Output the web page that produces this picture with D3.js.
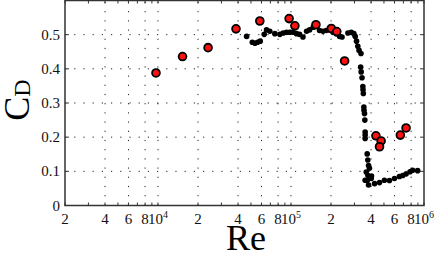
<!DOCTYPE html>
<html><head><meta charset="utf-8">
<script src="https://cdn.jsdelivr.net/npm/d3@7"></script>
<style>body{margin:0;background:#fff}svg{display:block}</style>
</head><body>
<script>
// Red (large) markers: Reynolds number and drag coefficient
const redRe = [9.66e3, 1.53e4, 2.38e4, 3.86e4, 5.83e4, 9.68e4, 1.07e5, 1.54e5, 2.01e5, 2.21e5, 2.53e5, 4.35e5, 4.76e5, 4.63e5, 6.64e5, 7.33e5];
const redCd = [0.388, 0.436, 0.462, 0.517, 0.540, 0.547, 0.526, 0.529, 0.518, 0.509, 0.423, 0.204, 0.189, 0.172, 0.206, 0.227];
// Black (small) markers
const blackRe = [4.64e4, 5.12e4, 5.36e4, 5.61e4, 5.87e4, 6.29e4, 6.55e4, 6.93e4, 7.56e4, 8.25e4, 8.73e4, 9.25e4, 9.79e4, 1.04e5, 1.10e5, 1.16e5, 1.23e5, 1.31e5, 1.38e5, 1.47e5, 1.64e5, 1.74e5, 1.84e5, 1.95e5, 2.07e5, 2.19e5, 2.32e5, 2.42e5, 2.68e5, 2.84e5, 2.97e5, 3.04e5, 3.11e5, 3.18e5, 3.25e5, 3.36e5, 3.34e5, 3.37e5, 3.42e5, 3.47e5, 3.48e5, 3.50e5, 3.53e5, 3.54e5, 3.57e5, 3.59e5, 3.61e5, 3.61e5, 3.61e5, 3.74e5, 3.78e5, 3.83e5, 3.89e5, 3.68e5, 3.79e5, 4.01e5, 3.61e5, 3.74e5, 3.83e5, 4.25e5, 4.63e5, 5.04e5, 5.50e5, 6.00e5, 6.53e5, 6.92e5, 7.33e5, 7.85e5, 8.22e5, 8.96e5, 4.03e5];
const blackCd = [0.495, 0.478, 0.475, 0.478, 0.481, 0.501, 0.514, 0.510, 0.503, 0.501, 0.505, 0.507, 0.507, 0.507, 0.503, 0.501, 0.493, 0.510, 0.514, 0.522, 0.512, 0.510, 0.512, 0.514, 0.507, 0.503, 0.495, 0.493, 0.505, 0.507, 0.503, 0.495, 0.481, 0.466, 0.454, 0.445, 0.405, 0.391, 0.374, 0.348, 0.339, 0.328, 0.288, 0.279, 0.269, 0.250, 0.215, 0.206, 0.196, 0.151, 0.133, 0.117, 0.109, 0.098, 0.088, 0.079, 0.074, 0.073, 0.060, 0.064, 0.067, 0.074, 0.073, 0.079, 0.085, 0.088, 0.092, 0.099, 0.103, 0.102, 0.086];
// Axis ticks
const xTicks = [2e3, 4e3, 6e3, 8e3, 1e4, 2e4, 4e4, 6e4, 8e4, 1e5, 2e5, 4e5, 6e5, 8e5, 1e6];
const xTickLabels = ["2", "4", "6", "8", "10^4", "2", "4", "6", "8", "10^5", "2", "4", "6", "8", "10^6"];
const yTicks = [0, 0.1, 0.2, 0.3, 0.4, 0.5];
const yTickLabels = ["0", "0.1", "0.2", "0.3", "0.4", "0.5"];
const xDomain = [2e3, 1e6];
const yDomain = [0, 0.6];

const W = 435, H = 257;
const m = {l: 65, r: 11, t: 0.5, b: 51.5};
const svg = d3.select("body").append("svg").attr("width", W).attr("height", H);
const x = d3.scaleLog().domain(xDomain).range([m.l, W - m.r]);
const y = d3.scaleLinear().domain(yDomain).range([H - m.b, m.t]);
const font = "'Liberation Serif', 'Times New Roman', serif";
const axCol = "#333";

// grid
const g = svg.append("g");
g.selectAll("line.vg").data(xTicks.filter(t => t > xDomain[0] && t < xDomain[1])).enter().append("line")
  .attr("x1", d => x(d)).attr("x2", d => x(d)).attr("y1", y(0)).attr("y2", y(0.6))
  .attr("stroke", "#222").attr("stroke-width", 1).attr("stroke-dasharray", "1.2,8");
g.selectAll("line.hg").data(yTicks.filter(t => t > 0)).enter().append("line")
  .attr("x1", x(xDomain[0])).attr("x2", x(xDomain[1])).attr("y1", d => y(d)).attr("y2", d => y(d))
  .attr("stroke", "#222").attr("stroke-width", 1).attr("stroke-dasharray", "1.2,8");

// minor ticks (log axis)
const minor = [];
[1e3, 1e4, 1e5].forEach(dec => { for (let k = 2; k <= 10; k++) { const v = dec * k; if (v >= xDomain[0] && v <= xDomain[1]) minor.push(v); } });
const y0 = y(0), yT = y(0.6);
g.selectAll("line.mt").data(minor).enter().append("line")
  .attr("x1", d => x(d)).attr("x2", d => x(d)).attr("y1", y0).attr("y2", y0 - 3)
  .attr("stroke", axCol).attr("stroke-width", 1);
g.selectAll("line.mt2").data(minor).enter().append("line")
  .attr("x1", d => x(d)).attr("x2", d => x(d)).attr("y1", yT).attr("y2", yT + 3)
  .attr("stroke", axCol).attr("stroke-width", 1);
g.selectAll("line.yt").data(yTicks).enter().append("line")
  .attr("x1", m.l).attr("x2", m.l + 4).attr("y1", d => y(d)).attr("y2", d => y(d))
  .attr("stroke", axCol).attr("stroke-width", 1);
g.selectAll("line.yt2").data(yTicks).enter().append("line")
  .attr("x1", W - m.r).attr("x2", W - m.r - 4).attr("y1", d => y(d)).attr("y2", d => y(d))
  .attr("stroke", axCol).attr("stroke-width", 1);

// box
svg.append("rect").attr("x", m.l).attr("y", m.t).attr("width", W - m.r - m.l).attr("height", y0 - m.t)
  .attr("fill", "none").attr("stroke", axCol).attr("stroke-width", 1.5);

// tick labels
const xl = svg.append("g").attr("font-family", font).attr("font-size", 15).attr("fill", "#111");
xTicks.forEach((t, i) => {
  const lab = xTickLabels[i];
  const tx = xl.append("text").attr("x", x(t)).attr("y", 224).attr("text-anchor", "middle");
  if (lab.includes("^")) {
    const [b, e] = lab.split("^");
    tx.append("tspan").text(b);
    tx.append("tspan").text(e).attr("font-size", 10).attr("dy", -6);
  } else tx.text(lab);
});
const yl = svg.append("g").attr("font-family", font).attr("font-size", 15).attr("fill", "#111");
yTicks.forEach((t, i) => {
  yl.append("text").attr("x", 60).attr("y", y(t) + 5).attr("text-anchor", "end").text(yTickLabels[i]);
});

// axis titles
svg.append("text").attr("x", 246).attr("y", 250).attr("text-anchor", "middle")
  .attr("font-family", font).attr("font-size", 36).attr("fill", "#000").text("Re");
const yt = svg.append("text").attr("transform", "translate(29,100) rotate(-90)").attr("text-anchor", "middle")
  .attr("font-family", font).attr("font-size", 36).attr("fill", "#000");
yt.append("tspan").text("C");
yt.append("tspan").text("D").attr("font-size", 24).attr("dy", 1);

// data
const black = blackRe.map((r, i) => ({re: r, cd: blackCd[i]}));
const red = redRe.map((r, i) => ({re: r, cd: redCd[i]}));
svg.append("g").selectAll("circle").data(black).enter().append("circle")
  .attr("cx", d => x(d.re)).attr("cy", d => y(d.cd)).attr("r", 2.8).attr("fill", "#000");
svg.append("g").selectAll("circle").data(red).enter().append("circle")
  .attr("cx", d => x(d.re)).attr("cy", d => y(d.cd)).attr("r", 3.9)
  .attr("fill", "#ff1010").attr("stroke", "#000").attr("stroke-width", 1.8);
</script>
</body></html>
